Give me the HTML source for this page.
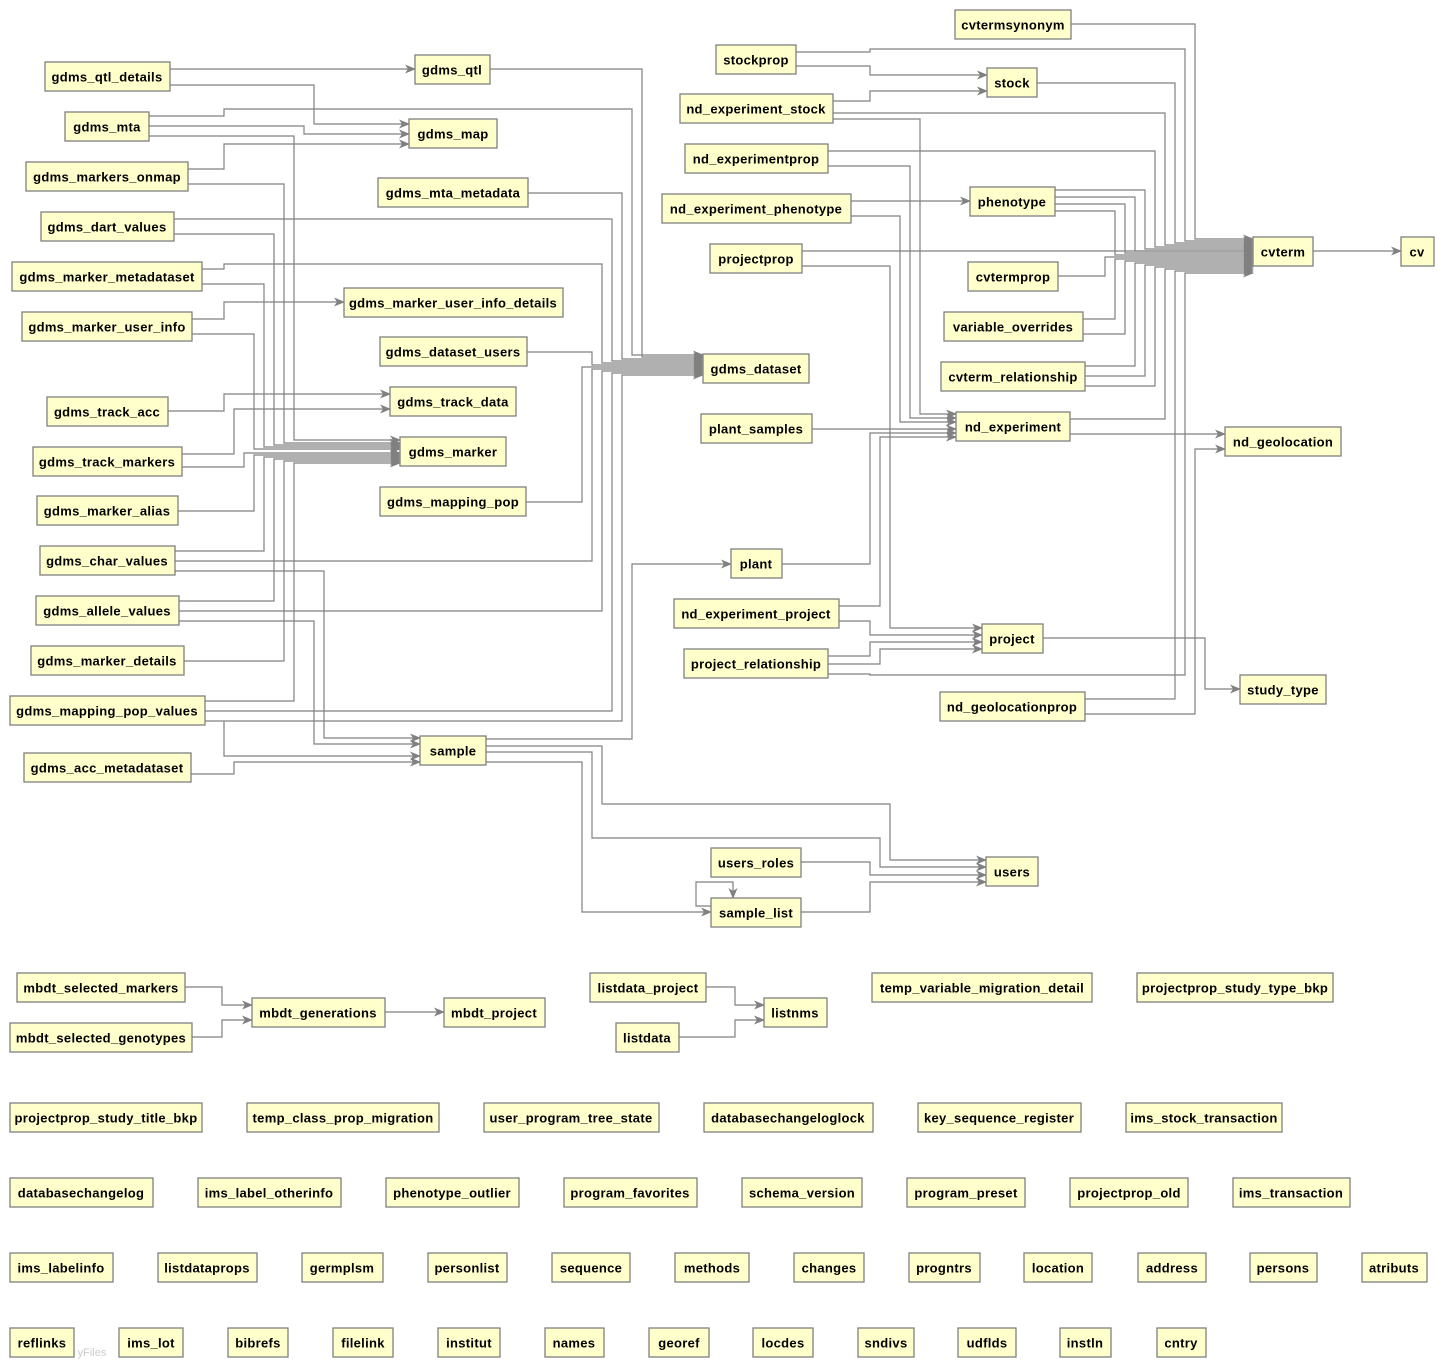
<!DOCTYPE html>
<html><head><meta charset="utf-8"><style>
html,body{margin:0;padding:0;background:#fff;}
svg{display:block;}
.b rect{fill:#ffffcc;stroke:#808080;stroke-width:1.3;}
text{font-family:"Liberation Sans",Arial,sans-serif;font-weight:bold;font-size:13px;fill:#000;letter-spacing:0.3px;text-anchor:middle;dominant-baseline:central;}
polyline{fill:none;stroke:#808080;stroke-width:1.2;}
.a{marker-end:url(#ar);}
</style></head><body>
<svg width="1443" height="1369" viewBox="0 0 1443 1369" xmlns="http://www.w3.org/2000/svg">
<defs><marker id="ar" markerWidth="11" markerHeight="9" refX="10" refY="4.5" orient="auto" markerUnits="userSpaceOnUse"><path d="M0,0 L11,4.5 L0,9 L3,4.5 Z" fill="#808080"/></marker></defs>
<g>
<polyline class="a" points="170,69 415,69"/>
<polyline class="a" points="170,85 314,85 314,124 409,124"/>
<polyline class="a" points="149,116 224,116 224,109 632,109 632,355 703,355"/>
<polyline class="a" points="149,126 304,126 304,134 409,134"/>
<polyline class="a" points="149,136 294,136 294,440 400,440"/>
<polyline class="a" points="188,169 224,169 224,144 409,144"/>
<polyline class="a" points="188,184 284,184 284,443 400,443"/>
<polyline class="a" points="490,69 642,69 642,357 703,357"/>
<polyline class="a" points="528,193 622,193 622,359 703,359"/>
<polyline class="a" points="174,219 612,219 612,361 703,361"/>
<polyline class="a" points="174,234 274,234 274,445 400,445"/>
<polyline class="a" points="202,269 224,269 224,264 602,264 602,363 703,363"/>
<polyline class="a" points="202,284 264,284 264,447 400,447"/>
<polyline class="a" points="192,319 224,319 224,302 344,302"/>
<polyline class="a" points="192,334 254,334 254,449 400,449"/>
<polyline class="a" points="527,352 592,352 592,365 703,365"/>
<polyline class="a" points="168,411 224,411 224,394 390,394"/>
<polyline class="a" points="182,454 234,454 234,409 390,409"/>
<polyline class="a" points="182,467 244,467 244,453 400,453"/>
<polyline class="a" points="178,511 254,511 254,455 400,455"/>
<polyline class="a" points="526,502 582,502 582,367 703,367"/>
<polyline class="a" points="175,551 264,551 264,457 400,457"/>
<polyline class="a" points="175,561 592,561 592,369 703,369"/>
<polyline class="a" points="175,571 324,571 324,738 420,738"/>
<polyline class="a" points="179,601 274,601 274,459 400,459"/>
<polyline class="a" points="179,611 602,611 602,371 703,371"/>
<polyline class="a" points="179,621 314,621 314,744 420,744"/>
<polyline class="a" points="184,661 284,661 284,461 400,461"/>
<polyline class="a" points="205,701 294,701 294,463 400,463"/>
<polyline class="a" points="205,711 612,711 612,373 703,373"/>
<polyline class="a" points="205,721 622,721 622,375 703,375"/>
<polyline class="a" points="224,721 224,756 420,756"/>
<polyline class="a" points="191,774 234,774 234,762 420,762"/>
<polyline class="a" points="486,739 632,739 632,564 731,564"/>
<polyline class="a" points="486,746 602,746 602,804 890,804 890,860 986,860"/>
<polyline class="a" points="486,752 592,752 592,838 880,838 880,867 986,867"/>
<polyline class="a" points="486,762 582,762 582,912 711,912"/>
<polyline class="a" points="801,862 870,862 870,875 986,875"/>
<polyline class="a" points="801,912 870,912 870,882 986,882"/>
<polyline class="a" points="711,906 696,906 696,882 733,882 733,898"/>
<polyline class="a" points="1071,24 1195,24 1195,239 1253,239"/>
<polyline class="a" points="796,52 870,52 870,49 1185,49 1185,241 1253,241"/>
<polyline class="a" points="796,66 870,66 870,75 987,75"/>
<polyline class="a" points="833,101 870,101 870,91 987,91"/>
<polyline class="a" points="1037,83 1175,83 1175,243 1253,243"/>
<polyline class="a" points="833,113 1165,113 1165,245 1253,245"/>
<polyline class="a" points="833,119 920,119 920,414 956,414"/>
<polyline class="a" points="828,151 1155,151 1155,247 1253,247"/>
<polyline class="a" points="828,166 910,166 910,418 956,418"/>
<polyline class="a" points="851,201 970,201"/>
<polyline class="a" points="851,216 900,216 900,422 956,422"/>
<polyline class="a" points="1055,190 1145,190 1145,249 1253,249"/>
<polyline class="a" points="1055,197 1135,197 1135,251 1253,251"/>
<polyline class="a" points="1055,204 1125,204 1125,253 1253,253"/>
<polyline class="a" points="1055,211 1115,211 1115,255 1253,255"/>
<polyline class="a" points="802,251 1253,251"/>
<polyline class="a" points="802,266 890,266 890,628 982,628"/>
<polyline class="a" points="1058,276 1105,276 1105,257 1253,257"/>
<polyline class="a" points="1083,319 1115,319 1115,259 1253,259"/>
<polyline class="a" points="1083,334 1125,334 1125,261 1253,261"/>
<polyline class="a" points="1085,366 1135,366 1135,263 1253,263"/>
<polyline class="a" points="1085,376 1145,376 1145,265 1253,265"/>
<polyline class="a" points="1085,386 1155,386 1155,267 1253,267"/>
<polyline class="a" points="1070,419 1165,419 1165,269 1253,269"/>
<polyline class="a" points="1070,434 1225,434"/>
<polyline class="a" points="1085,699 1175,699 1175,271 1253,271"/>
<polyline class="a" points="1085,714 1195,714 1195,449 1225,449"/>
<polyline class="a" points="1043,638 1205,638 1205,689 1240,689"/>
<polyline class="a" points="812,429 956,429"/>
<polyline class="a" points="782,564 870,564 870,433 956,433"/>
<polyline class="a" points="839,606 880,606 880,437 956,437"/>
<polyline class="a" points="839,621 870,621 870,635 982,635"/>
<polyline class="a" points="828,656 870,656 870,642 982,642"/>
<polyline class="a" points="828,664 880,664 880,649 982,649"/>
<polyline class="a" points="828,674 870,674 870,675 1185,675 1185,273 1253,273"/>
<polyline class="a" points="1313,251 1401,251"/>
<polyline class="a" points="185,987 222,987 222,1005 252,1005"/>
<polyline class="a" points="192,1037 222,1037 222,1020 252,1020"/>
<polyline class="a" points="385,1012 444,1012"/>
<polyline class="a" points="706,987 735,987 735,1005 764,1005"/>
<polyline class="a" points="679,1037 735,1037 735,1020 764,1020"/>
</g>
<g class="b">
<rect x="45" y="62" width="125" height="29"/><text x="107" y="77">gdms_qtl_details</text>
<rect x="415" y="55" width="75" height="29"/><text x="452" y="70">gdms_qtl</text>
<rect x="65" y="112" width="84" height="29"/><text x="107" y="127">gdms_mta</text>
<rect x="409" y="119" width="88" height="29"/><text x="453" y="134">gdms_map</text>
<rect x="26" y="162" width="162" height="29"/><text x="107" y="177">gdms_markers_onmap</text>
<rect x="378" y="178" width="150" height="29"/><text x="453" y="193">gdms_mta_metadata</text>
<rect x="41" y="212" width="133" height="29"/><text x="107" y="227">gdms_dart_values</text>
<rect x="12" y="262" width="190" height="29"/><text x="107" y="277">gdms_marker_metadataset</text>
<rect x="344" y="288" width="219" height="29"/><text x="453" y="303">gdms_marker_user_info_details</text>
<rect x="22" y="312" width="170" height="29"/><text x="107" y="327">gdms_marker_user_info</text>
<rect x="380" y="337" width="147" height="29"/><text x="453" y="352">gdms_dataset_users</text>
<rect x="703" y="354" width="106" height="29"/><text x="756" y="369">gdms_dataset</text>
<rect x="47" y="397" width="121" height="29"/><text x="107" y="412">gdms_track_acc</text>
<rect x="390" y="387" width="126" height="29"/><text x="453" y="402">gdms_track_data</text>
<rect x="33" y="447" width="149" height="29"/><text x="107" y="462">gdms_track_markers</text>
<rect x="400" y="437" width="106" height="29"/><text x="453" y="452">gdms_marker</text>
<rect x="37" y="496" width="141" height="29"/><text x="107" y="511">gdms_marker_alias</text>
<rect x="380" y="487" width="146" height="29"/><text x="453" y="502">gdms_mapping_pop</text>
<rect x="40" y="546" width="135" height="29"/><text x="107" y="561">gdms_char_values</text>
<rect x="36" y="596" width="143" height="29"/><text x="107" y="611">gdms_allele_values</text>
<rect x="31" y="646" width="153" height="29"/><text x="107" y="661">gdms_marker_details</text>
<rect x="10" y="696" width="195" height="29"/><text x="107" y="711">gdms_mapping_pop_values</text>
<rect x="24" y="753" width="167" height="29"/><text x="107" y="768">gdms_acc_metadataset</text>
<rect x="420" y="736" width="66" height="29"/><text x="453" y="751">sample</text>
<rect x="731" y="549" width="51" height="29"/><text x="756" y="564">plant</text>
<rect x="955" y="10" width="116" height="29"/><text x="1013" y="25">cvtermsynonym</text>
<rect x="716" y="45" width="80" height="29"/><text x="756" y="60">stockprop</text>
<rect x="987" y="68" width="50" height="29"/><text x="1012" y="83">stock</text>
<rect x="680" y="94" width="153" height="29"/><text x="756" y="109">nd_experiment_stock</text>
<rect x="685" y="144" width="143" height="29"/><text x="756" y="159">nd_experimentprop</text>
<rect x="662" y="194" width="189" height="29"/><text x="756" y="209">nd_experiment_phenotype</text>
<rect x="970" y="187" width="85" height="29"/><text x="1012" y="202">phenotype</text>
<rect x="710" y="244" width="92" height="29"/><text x="756" y="259">projectprop</text>
<rect x="1253" y="237" width="60" height="29"/><text x="1283" y="252">cvterm</text>
<rect x="1401" y="237" width="33" height="29"/><text x="1417" y="252">cv</text>
<rect x="968" y="262" width="90" height="29"/><text x="1013" y="277">cvtermprop</text>
<rect x="944" y="312" width="139" height="29"/><text x="1013" y="327">variable_overrides</text>
<rect x="941" y="362" width="144" height="29"/><text x="1013" y="377">cvterm_relationship</text>
<rect x="701" y="414" width="111" height="29"/><text x="756" y="429">plant_samples</text>
<rect x="956" y="412" width="114" height="29"/><text x="1013" y="427">nd_experiment</text>
<rect x="1225" y="427" width="116" height="29"/><text x="1283" y="442">nd_geolocation</text>
<rect x="674" y="599" width="165" height="29"/><text x="756" y="614">nd_experiment_project</text>
<rect x="982" y="624" width="61" height="29"/><text x="1012" y="639">project</text>
<rect x="684" y="649" width="144" height="29"/><text x="756" y="664">project_relationship</text>
<rect x="1240" y="675" width="86" height="29"/><text x="1283" y="690">study_type</text>
<rect x="940" y="692" width="145" height="29"/><text x="1012" y="707">nd_geolocationprop</text>
<rect x="711" y="848" width="90" height="29"/><text x="756" y="863">users_roles</text>
<rect x="986" y="857" width="52" height="29"/><text x="1012" y="872">users</text>
<rect x="711" y="898" width="90" height="29"/><text x="756" y="913">sample_list</text>
<rect x="17" y="973" width="168" height="29"/><text x="101" y="988">mbdt_selected_markers</text>
<rect x="10" y="1023" width="182" height="29"/><text x="101" y="1038">mbdt_selected_genotypes</text>
<rect x="252" y="998" width="133" height="29"/><text x="318" y="1013">mbdt_generations</text>
<rect x="444" y="998" width="101" height="29"/><text x="494" y="1013">mbdt_project</text>
<rect x="590" y="973" width="116" height="29"/><text x="648" y="988">listdata_project</text>
<rect x="616" y="1023" width="63" height="29"/><text x="647" y="1038">listdata</text>
<rect x="764" y="998" width="63" height="29"/><text x="795" y="1013">listnms</text>
<rect x="872" y="973" width="220" height="29"/><text x="982" y="988">temp_variable_migration_detail</text>
<rect x="1137" y="973" width="196" height="29"/><text x="1235" y="988">projectprop_study_type_bkp</text>
<rect x="10" y="1103" width="192" height="29"/><text x="106" y="1118">projectprop_study_title_bkp</text>
<rect x="247" y="1103" width="192" height="29"/><text x="343" y="1118">temp_class_prop_migration</text>
<rect x="484" y="1103" width="175" height="29"/><text x="571" y="1118">user_program_tree_state</text>
<rect x="704" y="1103" width="169" height="29"/><text x="788" y="1118">databasechangeloglock</text>
<rect x="918" y="1103" width="163" height="29"/><text x="999" y="1118">key_sequence_register</text>
<rect x="1126" y="1103" width="156" height="29"/><text x="1204" y="1118">ims_stock_transaction</text>
<rect x="10" y="1178" width="143" height="29"/><text x="81" y="1193">databasechangelog</text>
<rect x="198" y="1178" width="143" height="29"/><text x="269" y="1193">ims_label_otherinfo</text>
<rect x="386" y="1178" width="133" height="29"/><text x="452" y="1193">phenotype_outlier</text>
<rect x="564" y="1178" width="133" height="29"/><text x="630" y="1193">program_favorites</text>
<rect x="742" y="1178" width="120" height="29"/><text x="802" y="1193">schema_version</text>
<rect x="907" y="1178" width="118" height="29"/><text x="966" y="1193">program_preset</text>
<rect x="1070" y="1178" width="118" height="29"/><text x="1129" y="1193">projectprop_old</text>
<rect x="1233" y="1178" width="117" height="29"/><text x="1291" y="1193">ims_transaction</text>
<rect x="10" y="1253" width="103" height="29"/><text x="61" y="1268">ims_labelinfo</text>
<rect x="158" y="1253" width="99" height="29"/><text x="207" y="1268">listdataprops</text>
<rect x="302" y="1253" width="81" height="29"/><text x="342" y="1268">germplsm</text>
<rect x="428" y="1253" width="79" height="29"/><text x="467" y="1268">personlist</text>
<rect x="552" y="1253" width="78" height="29"/><text x="591" y="1268">sequence</text>
<rect x="675" y="1253" width="74" height="29"/><text x="712" y="1268">methods</text>
<rect x="794" y="1253" width="70" height="29"/><text x="829" y="1268">changes</text>
<rect x="909" y="1253" width="71" height="29"/><text x="944" y="1268">progntrs</text>
<rect x="1024" y="1253" width="68" height="29"/><text x="1058" y="1268">location</text>
<rect x="1138" y="1253" width="68" height="29"/><text x="1172" y="1268">address</text>
<rect x="1250" y="1253" width="67" height="29"/><text x="1283" y="1268">persons</text>
<rect x="1362" y="1253" width="65" height="29"/><text x="1394" y="1268">atributs</text>
<rect x="10" y="1328" width="64" height="29"/><text x="42" y="1343">reflinks</text>
<rect x="119" y="1328" width="64" height="29"/><text x="151" y="1343">ims_lot</text>
<rect x="228" y="1328" width="60" height="29"/><text x="258" y="1343">bibrefs</text>
<rect x="333" y="1328" width="60" height="29"/><text x="363" y="1343">filelink</text>
<rect x="438" y="1328" width="62" height="29"/><text x="469" y="1343">institut</text>
<rect x="545" y="1328" width="59" height="29"/><text x="574" y="1343">names</text>
<rect x="649" y="1328" width="60" height="29"/><text x="679" y="1343">georef</text>
<rect x="753" y="1328" width="60" height="29"/><text x="783" y="1343">locdes</text>
<rect x="858" y="1328" width="56" height="29"/><text x="886" y="1343">sndivs</text>
<rect x="958" y="1328" width="58" height="29"/><text x="987" y="1343">udflds</text>
<rect x="1060" y="1328" width="51" height="29"/><text x="1085" y="1343">instln</text>
<rect x="1157" y="1328" width="49" height="29"/><text x="1181" y="1343">cntry</text>
</g>
<text x="92" y="1353" style="font-weight:normal;font-size:11px;fill:#ccc;letter-spacing:0">yFiles</text>
</svg>
</body></html>
